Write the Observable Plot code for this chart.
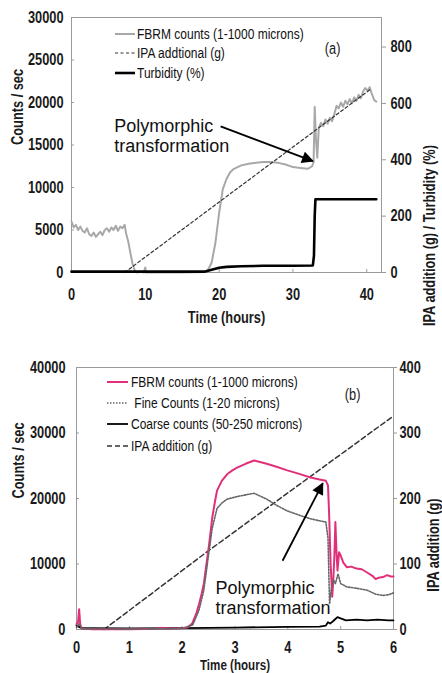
<!DOCTYPE html>
<html><head><meta charset="utf-8">
<script src="https://cdn.jsdelivr.net/npm/d3@7"></script>
<script src="https://cdn.jsdelivr.net/npm/@observablehq/plot@0.6"></script>
<style>
html,body{margin:0;padding:0;background:#fff;}
#wrap{width:442px;}
#wrap svg{display:block;}
</style></head><body><div id="wrap"></div>
<script>
// ---------- Panel (a) data ----------
const ticksXA = [0, 10, 20, 30, 40];
const ticksYA = [0, 5000, 10000, 15000, 20000, 25000, 30000];
const ticksRA = [0, 200, 400, 600, 800];
const fbrmA = [[0,6000],[0.3,5300],[0.6,5600],[0.9,5000],[1.2,5400],[1.5,4900],[1.8,4700],[2.1,5200],[2.4,4500],[2.7,4300],[3.0,4700],[3.3,4200],[3.6,4500],[3.9,4800],[4.2,4400],[4.5,5000],[4.8,5200],[5.1,4800],[5.4,5300],[5.7,5000],[6.0,5500],[6.3,4900],[6.6,5400],[6.9,5200],[7.2,5600],[7.4,4600],[7.7,3600],[8.0,2200],[8.3,900],[8.6,200],[8.9,0],[9.5,100],[9.8,0],[10.0,600],[10.1,0],[12,0],[15,0],[18,50],[18.5,300],[19,1200],[19.5,3500],[20,7000],[20.5,9800],[21,11000],[21.5,11800],[22,12200],[23,12600],[24,12800],[25,12900],[26,13000],[27,13000],[28,12900],[29,12700],[30,12400],[31,12300],[32,12200],[32.6,12500],[32.8,13000],[32.95,19500],[33.1,16000],[33.3,13500],[33.5,17000],[33.8,17600],[34.1,17200],[34.4,18000],[34.7,17500],[35,18200],[35.3,17800],[35.6,18600],[35.9,19600],[36.2,19300],[36.5,20000],[36.8,19500],[37.1,20200],[37.4,19800],[37.7,20400],[38,19900],[38.3,20600],[38.6,20200],[38.9,20900],[39.2,20500],[39.5,21300],[39.8,21700],[40.1,21400],[40.4,21800],[40.7,21000],[41,20300],[41.3,20100]];
const ipaA = [[7.2,0],[20,250],[40.6,652]];
const turbA = [[0,3],[18,3],[19,10],[20,17],[21,20],[23,22],[26,24],[30,24],[32.7,25],[32.85,60],[32.95,200],[33.05,260],[41.3,260]];
const legendA = ["FBRM counts (1-1000 microns)", "IPA addtional (g)", "Turbidity (%)"];
const annotTextA = [[5.8, 16100, "Polymorphic\ntransformation"]];
const annotArrowA = [[20.2, 17200, 32.7, 13100]];

// ---------- Panel (b) data ----------
const ticksXB = [0, 1, 2, 3, 4, 5, 6];
const ticksYB = [0, 10000, 20000, 30000, 40000];
const ticksRB = [0, 100, 200, 300, 400];
const fbrmB = [[0,800],[0.03,1200],[0.05,3100],[0.07,800],[0.1,150],[0.3,50],[1.0,50],[1.5,100],[1.6,250],[1.7,150],[2.0,200],[2.1,300],[2.19,900],[2.27,2500],[2.32,3900],[2.37,5500],[2.41,7000],[2.46,10000],[2.51,13000],[2.57,17100],[2.62,19500],[2.66,21200],[2.75,22700],[2.85,23700],[2.95,24300],[3.04,24700],[3.2,25300],[3.36,25800],[3.6,25300],[3.8,24800],[3.99,24300],[4.2,23800],[4.43,23200],[4.6,22900],[4.72,22700],[4.76,22000],[4.78,18000],[4.81,10000],[4.84,5000],[4.86,7500],[4.88,11000],[4.9,16400],[4.92,12000],[4.94,9000],[4.97,11800],[5.0,11300],[5.05,10200],[5.12,9500],[5.2,9600],[5.3,9300],[5.4,9200],[5.5,8700],[5.6,8200],[5.66,7700],[5.72,7900],[5.8,8000],[5.88,8300],[5.95,8100],[6.0,8100]];
const fineB = [[0,300],[0.05,900],[0.1,100],[1.0,50],[2.0,150],[2.2,700],[2.32,3000],[2.41,6000],[2.51,12000],[2.57,15500],[2.66,18500],[2.75,19300],[2.85,19900],[3.04,20300],[3.36,20800],[3.6,19900],[3.8,18900],[3.99,18100],[4.2,17500],[4.43,16900],[4.6,16600],[4.72,16400],[4.76,14000],[4.79,3900],[4.82,6000],[4.86,7600],[4.9,7000],[4.95,8500],[5.0,7000],[5.12,6500],[5.3,6300],[5.5,6000],[5.66,5400],[5.8,5200],[5.9,5300],[6.0,5600]];
const coarseB = [[0,600],[0.05,400],[0.1,200],[1,150],[2,200],[3,300],[4,400],[4.6,450],[4.72,600],[4.76,1100],[4.8,900],[4.86,1300],[4.9,1600],[4.94,1900],[5.0,1700],[5.1,1400],[5.3,1500],[5.5,1400],[5.7,1500],[5.9,1400],[6.0,1400]];
const ipaB = [[0.52,0],[2.51,121],[6.0,326]];
const legendB = ["FBRM counts (1-1000 microns)", " Fine Counts (1-20 microns)", "Coarse counts (50-250 microns)", "IPA addition (g)"];
const annotTextB = [[2.63, 4800, "Polymorphic\ntransformation"]];
const annotArrowB = [[3.9, 10500, 4.66, 22300]];

// ---------- styles ----------
const SANS = "'Liberation Sans',Arial,sans-serif";
const PINK = "#e0307a";
const GRAY = "#a8a8a8";
const FRAME = "#9a9a9a";
const NARROW_FACTOR = 0.8;

function addArrowHead(svg, id) {
  const s = d3.select(svg);
  s.append("defs").append("marker")
    .attr("id", id).attr("viewBox", "0 -5 10 10").attr("refX", 9).attr("refY", 0)
    .attr("markerWidth", 13).attr("markerHeight", 12).attr("markerUnits", "userSpaceOnUse")
    .attr("orient", "auto")
    .append("path").attr("d", "M0,-5L10,0L0,5Z").attr("fill", "#000");
  s.selectAll('g[aria-label="link"] path').attr("marker-end", `url(#${id})`);
}

// legend entries; the text is squeezed horizontally by a scale transform
function addLegend(svg, items, x0, x1, xt, ys) {
  const g = d3.select(svg).append("g").attr("aria-label", "legend");
  items.forEach((it, i) => {
    g.append("line").attr("x1", x0).attr("x2", x1).attr("y1", ys[i]).attr("y2", ys[i])
      .attr("stroke", it.stroke).attr("stroke-width", it.width)
      .attr("stroke-dasharray", it.dash || null);
    g.append("g").attr("transform", `translate(${xt},${ys[i]}) scale(${NARROW_FACTOR},1)`)
      .append("text").attr("x", 0).attr("y", 0).attr("dy", "0.35em")
      .attr("text-anchor", "start")
      .attr("font-family", SANS).attr("font-size", 15).attr("font-weight", "normal")
      .attr("fill", "#111").style("white-space", "pre").text(it.label);
  });
}

// squeeze axis texts horizontally to imitate the narrow face used in the original
function condense(svg) {
  d3.select(svg).selectAll("text").each(function () {
    const g = this.closest("g[aria-label]");
    const lab = g ? g.getAttribute("aria-label") : "";
    if (lab === "annotation" || lab === "panel-label" || lab === "legend") return;
    if (this.querySelector("tspan")) return;
    const L = this.getComputedTextLength();
    if (L > 0) {
      this.setAttribute("textLength", (L * NARROW_FACTOR).toFixed(2));
      this.setAttribute("lengthAdjust", "spacingAndGlyphs");
    }
  });
}

const baseStyle = {fontFamily: SANS, fontSize: "16px", fontWeight: "bold", color: "#1a1a1a", background: "#fff", overflow: "visible"};

// ---------- Panel (a) ----------
const kA = 30000 / 905;
const plotA = Plot.plot({
  width: 442, height: 330,
  marginTop: 17, marginBottom: 58, marginLeft: 71, marginRight: 61,
  x: {domain: [0, 42]},
  y: {domain: [0, 30000]},
  style: baseStyle,
  marks: [
    Plot.frame({stroke: FRAME}),
    Plot.axisY({anchor: "left", ticks: ticksYA, tickSize: -3, tickPadding: 11, tickFormat: d3.format("d"), label: null, stroke: FRAME}),
    Plot.axisY({anchor: "right", ticks: ticksRA.map(v => v * kA), tickSize: 4, tickPadding: 5, tickFormat: d => String(Math.round(d / kA)), label: null, stroke: FRAME}),
    Plot.axisX({ticks: ticksXA, tickSize: -3, tickPadding: 19, tickFormat: d3.format("d"), label: null, stroke: FRAME}),
    Plot.line(fbrmA, {x: d => d[0], y: d => d[1], stroke: GRAY, strokeWidth: 2}),
    Plot.line(ipaA, {x: d => d[0], y: d => d[1] * kA, stroke: "#333", strokeWidth: 1.2, strokeDasharray: "3,2.5"}),
    Plot.line(turbA, {x: d => d[0], y: d => d[1] * kA, stroke: "#000", strokeWidth: 2.6}),
    Plot.text(annotTextA, {x: d => d[0], y: d => d[1], text: d => d[2], textAnchor: "start", fontSize: 18, fontWeight: "normal", lineHeight: 1.12, fill: "#111", ariaLabel: "annotation"}),
    Plot.link(annotArrowA, {x1: d => d[0], y1: d => d[1], x2: d => d[2], y2: d => d[3], stroke: "#000", strokeWidth: 1.8}),
    Plot.text(["Counts / sec"], {text: d => d, frameAnchor: "left", dx: -54, rotate: -90, fontSize: 16}),
    Plot.text(["IPA addition (g) / Turbidity (%)"], {text: d => d, frameAnchor: "right", dx: 48, rotate: -90, fontSize: 16}),
    Plot.text(["Time (hours)"], {text: d => d, frameAnchor: "bottom", lineAnchor: "middle", dy: 45, fontSize: 16}),
    Plot.text(["(a)"], {text: d => d, frameAnchor: "top-right", lineAnchor: "middle", dx: -41, dy: 31, fontSize: 16, fontWeight: "normal", ariaLabel: "panel-label"})
  ]
});
addArrowHead(plotA, "headA");
addLegend(plotA, [
  {label: legendA[0], stroke: GRAY, width: 2},
  {label: legendA[1], stroke: "#333", width: 1.2, dash: "3,2.5"},
  {label: legendA[2], stroke: "#000", width: 2.6}
], 115, 135, 137, [34, 53, 73]);
document.getElementById("wrap").appendChild(plotA);
condense(plotA);

// ---------- Panel (b) ----------
const kB = 40000 / 400;
const plotB = Plot.plot({
  width: 442, height: 343,
  marginTop: 37, marginBottom: 44, marginLeft: 76, marginRight: 49,
  x: {domain: [0, 6]},
  y: {domain: [0, 40000]},
  style: baseStyle,
  marks: [
    Plot.frame({stroke: FRAME}),
    Plot.axisY({anchor: "left", ticks: ticksYB, tickSize: -3, tickPadding: 14, tickFormat: d3.format("d"), label: null, stroke: FRAME}),
    Plot.axisY({anchor: "right", ticks: ticksRB.map(v => v * kB), tickSize: 3, tickPadding: 3, tickFormat: d => String(Math.round(d / kB)), label: null, stroke: FRAME}),
    Plot.axisX({ticks: ticksXB, tickSize: -3, tickPadding: 15.5, tickFormat: d3.format("d"), label: null, stroke: FRAME}),
    Plot.line(ipaB, {x: d => d[0], y: d => d[1] * kB, stroke: "#333", strokeWidth: 1.5, strokeDasharray: "5,3"}),
    Plot.line(coarseB, {x: d => d[0], y: d => d[1], stroke: "#000", strokeWidth: 1.8}),
    Plot.line(fbrmB, {x: d => d[0], y: d => d[1], stroke: PINK, strokeWidth: 2}),
    Plot.line(fineB, {x: d => d[0], y: d => d[1], stroke: "#666", strokeWidth: 1.6, strokeDasharray: "1.5,1.5"}),
    Plot.text(annotTextB, {x: d => d[0], y: d => d[1], text: d => d[2], textAnchor: "start", fontSize: 18, fontWeight: "normal", lineHeight: 1.1, fill: "#111", ariaLabel: "annotation"}),
    Plot.link(annotArrowB, {x1: d => d[0], y1: d => d[1], x2: d => d[2], y2: d => d[3], stroke: "#000", strokeWidth: 1.8}),
    Plot.text(["Counts / sec"], {text: d => d, frameAnchor: "left", dx: -58, rotate: -90, fontSize: 16}),
    Plot.text(["IPA addition (g)"], {text: d => d, frameAnchor: "right", dx: 40, rotate: -90, fontSize: 16}),
    Plot.text(["Time (hours)"], {text: d => d, frameAnchor: "bottom", lineAnchor: "middle", dy: 36, fontSize: 14.5}),
    Plot.text(["(b)"], {text: d => d, frameAnchor: "top-right", lineAnchor: "middle", dx: -33, dy: 27, fontSize: 16, fontWeight: "normal", ariaLabel: "panel-label"})
  ]
});
addArrowHead(plotB, "headB");
addLegend(plotB, [
  {label: legendB[0], stroke: PINK, width: 2},
  {label: legendB[1], stroke: "#666", width: 1.6, dash: "1.5,1.5"},
  {label: legendB[2], stroke: "#000", width: 1.8},
  {label: legendB[3], stroke: "#333", width: 1.5, dash: "5,3"}
], 107, 128, 131, [52, 73, 94, 116]);
document.getElementById("wrap").appendChild(plotB);
condense(plotB);
</script>
</body></html>
